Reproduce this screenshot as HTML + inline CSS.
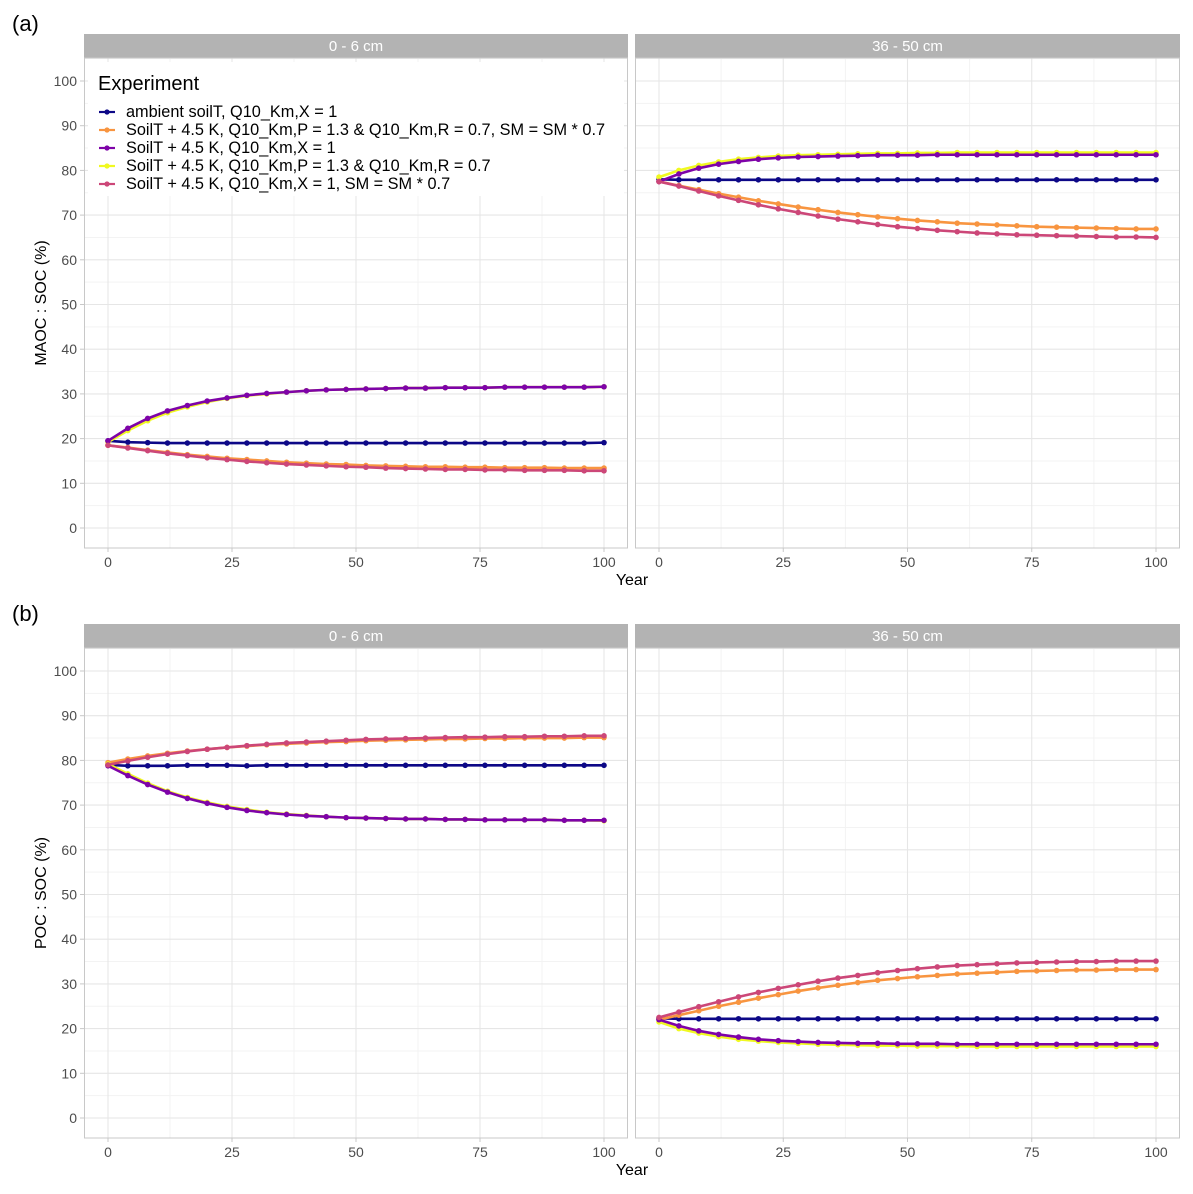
<!DOCTYPE html>
<html><head><meta charset="utf-8"><style>
body{margin:0;background:#fff;font-family:"Liberation Sans",Arial,sans-serif}
svg text{font-family:"Liberation Sans",Arial,sans-serif}
</style></head><body>
<svg id="chart" width="1193" height="1189" xmlns="http://www.w3.org/2000/svg"></svg>
<script>
const years=[0,4,8,12,16,20,24,28,32,36,40,44,48,52,56,60,64,68,72,76,80,84,88,92,96,100];
const seriesNames=["ambient soilT, Q10_Km,X = 1","SoilT + 4.5 K, Q10_Km,P = 1.3 & Q10_Km,R = 0.7, SM = SM * 0.7","SoilT + 4.5 K, Q10_Km,X = 1","SoilT + 4.5 K, Q10_Km,P = 1.3 & Q10_Km,R = 0.7","SoilT + 4.5 K, Q10_Km,X = 1, SM = SM * 0.7"];
const colors=["#0d0887","#f89540","#7e03a8","#f0f921","#cc4778"];
const drawOrder=[0,1,3,2,4];
// (a) 0-6 cm
const navyA1=[19.5,19.2,19.1,19,19,19,19,19,19,19,19,19,19,19,19,19,19,19,19,19,19,19,19,19,19,19.1];
const orA1=[18.5,18.0,17.4,16.9,16.4,16.0,15.6,15.3,15.0,14.7,14.5,14.3,14.2,14.0,13.9,13.8,13.7,13.7,13.6,13.6,13.5,13.5,13.5,13.4,13.4,13.4];
const purA1=[19.5,22.3,24.5,26.2,27.4,28.4,29.1,29.7,30.1,30.4,30.7,30.9,31.0,31.1,31.2,31.3,31.3,31.4,31.4,31.4,31.5,31.5,31.5,31.5,31.5,31.6];
const yelA1=[19.2,21.8,24.0,25.8,27.1,28.2,29.0,29.6,30.0,30.4,30.7,30.9,31.0,31.1,31.2,31.3,31.3,31.4,31.4,31.4,31.5,31.5,31.5,31.5,31.5,31.6];
const pkA1=[18.5,17.9,17.3,16.7,16.2,15.7,15.3,14.9,14.6,14.3,14.1,13.9,13.7,13.6,13.4,13.3,13.2,13.1,13.1,13.0,13.0,12.9,12.9,12.9,12.8,12.8];
// (a) 36-50 cm
const navyA2=[78,77.9,77.9,77.9,77.9,77.9,77.9,77.9,77.9,77.9,77.9,77.9,77.9,77.9,77.9,77.9,77.9,77.9,77.9,77.9,77.9,77.9,77.9,77.9,77.9,77.9];
const orA2=[77.5,76.6,75.7,74.8,74.0,73.2,72.5,71.8,71.2,70.6,70.1,69.6,69.2,68.8,68.5,68.2,68.0,67.8,67.6,67.4,67.3,67.2,67.1,67.0,66.9,66.9];
const purA2=[77.5,79.2,80.5,81.4,82.0,82.5,82.8,83.0,83.1,83.2,83.3,83.4,83.4,83.4,83.5,83.5,83.5,83.5,83.5,83.5,83.5,83.5,83.5,83.5,83.5,83.5];
const yelA2=[78.5,80.0,81.1,81.9,82.5,82.9,83.2,83.4,83.5,83.6,83.7,83.8,83.8,83.9,83.9,84,84,84,84,84,84,84,84,84,84,84];
const pkA2=[77.5,76.5,75.4,74.3,73.3,72.3,71.4,70.6,69.8,69.1,68.5,67.9,67.4,67.0,66.6,66.3,66.0,65.8,65.6,65.5,65.4,65.3,65.2,65.1,65.1,65.0];
// (b) 0-6 cm
const navyB1=[79,78.8,78.8,78.8,78.9,78.9,78.9,78.8,78.9,78.9,78.9,78.9,78.9,78.9,78.9,78.9,78.9,78.9,78.9,78.9,78.9,78.9,78.9,78.9,78.9,78.9];
const orB1=[79.5,80.3,81.0,81.6,82.1,82.5,82.9,83.2,83.5,83.7,83.9,84.1,84.2,84.4,84.5,84.6,84.7,84.8,84.8,84.9,84.9,85.0,85.0,85.0,85.1,85.1];
const purB1=[78.8,76.6,74.6,72.9,71.5,70.4,69.5,68.8,68.3,67.9,67.6,67.4,67.2,67.1,67.0,66.9,66.9,66.8,66.8,66.7,66.7,66.7,66.7,66.6,66.6,66.6];
const yelB1=[79.2,77.0,74.9,73.1,71.7,70.6,69.7,69.0,68.4,68.0,67.7,67.4,67.2,67.1,67.0,66.9,66.9,66.8,66.8,66.7,66.7,66.7,66.7,66.6,66.6,66.5];
const pkB1=[79.0,79.9,80.7,81.4,82.0,82.5,82.9,83.3,83.6,83.9,84.1,84.3,84.5,84.7,84.8,84.9,85.0,85.1,85.2,85.2,85.3,85.3,85.4,85.4,85.5,85.5];
// (b) 36-50 cm
const navyB2=[22.3,22.2,22.2,22.2,22.2,22.2,22.2,22.2,22.2,22.2,22.2,22.2,22.2,22.2,22.2,22.2,22.2,22.2,22.2,22.2,22.2,22.2,22.2,22.2,22.2,22.2];
const orB2=[22.0,23.0,24.0,25.0,25.9,26.8,27.6,28.4,29.1,29.7,30.3,30.8,31.2,31.6,31.9,32.2,32.4,32.6,32.8,32.9,33.0,33.1,33.1,33.2,33.2,33.2];
const purB2=[22.0,20.6,19.5,18.7,18.1,17.6,17.3,17.1,16.9,16.8,16.7,16.7,16.6,16.6,16.6,16.5,16.5,16.5,16.5,16.5,16.5,16.5,16.5,16.5,16.5,16.5];
const yelB2=[21.5,20.0,19.0,18.2,17.6,17.2,16.9,16.7,16.5,16.4,16.3,16.2,16.2,16.1,16.1,16.1,16.0,16.0,16.0,16.0,16.0,16.0,16.0,16.0,16.0,16.0];
const pkB2=[22.5,23.7,24.9,26.0,27.1,28.1,29.0,29.8,30.6,31.3,31.9,32.5,33.0,33.4,33.8,34.1,34.3,34.5,34.7,34.8,34.9,35.0,35.0,35.1,35.1,35.1];
const yTicks=[0,10,20,30,40,50,60,70,80,90,100];
const xTicks=[0,25,50,75,100];
const stripLabels=["0 - 6 cm","36 - 50 cm"];

const svg=document.getElementById('chart');
const NS="http://www.w3.org/2000/svg";
function mk(tag,attrs,parent,name,inter){const e=document.createElementNS(NS,tag);for(const k in attrs)e.setAttribute(k,attrs[k]);


(parent||svg).appendChild(e);return e;}
function txt(s,attrs,name){const t=mk('text',attrs,svg,name,false);t.textContent=s;return t;}

const panelsX=[[84,628],[635,1180]];
function drawRow(top,label,ytitle,data){
  const stripTop=top, plotTop=top+24, plotBot=top+514;
  const y0=plotBot-20, y100=plotTop+23;
  const ys=v=>y0+(y100-y0)*v/100;
  txt(label,{x:12,y:top-3,'font-size':22,fill:'#000'},'panel-label');
  panelsX.forEach((px,pi)=>{
    const xl=px[0],xr=px[1];
    const xs=v=>xl+24+(xr-xl-48)*v/100;
    mk('rect',{x:xl,y:stripTop,width:xr-xl,height:24,fill:'#b3b3b3'},svg,'facet-strip',false);
    txt(stripLabels[pi],{x:(xl+xr)/2,y:stripTop+17,'font-size':15,fill:'#fff','text-anchor':'middle'},'facet-strip-label');
    const g=mk('g',{},svg,'plot-panel',false);
    for(let v=-5;v<=105;v+=10){ if(v<-2)continue; mk('line',{x1:xl,x2:xr,y1:ys(v),y2:ys(v),stroke:'#f3f3f3','stroke-width':1},g,'minor-gridline',false);}
    for(let v=12.5;v<100;v+=25) mk('line',{x1:xs(v),x2:xs(v),y1:plotTop,y2:plotBot,stroke:'#f3f3f3','stroke-width':1},g,'minor-gridline',false);
    yTicks.forEach(v=>mk('line',{x1:xl,x2:xr,y1:ys(v),y2:ys(v),stroke:'#e6e6e6','stroke-width':1.1},g,'major-gridline',false));
    xTicks.forEach(v=>mk('line',{x1:xs(v),x2:xs(v),y1:plotTop,y2:plotBot,stroke:'#e6e6e6','stroke-width':1.1},g,'major-gridline',false));
    mk('rect',{x:xl+0.5,y:plotTop,width:xr-xl-1,height:plotBot-plotTop,fill:'none',stroke:'#c8c8c8','stroke-width':1},g,'panel-border',false);
    xTicks.forEach(v=>{mk('line',{x1:xs(v),x2:xs(v),y1:plotBot,y2:plotBot+4,stroke:'#c8c8c8'},svg,'x-tick',false);
      txt(String(v),{x:xs(v),y:plotBot+19,'font-size':14,fill:'#4d4d4d','text-anchor':'middle'},'x-tick-label');});
    if(pi===0) yTicks.forEach(v=>{mk('line',{x1:xl-4,x2:xl,y1:ys(v),y2:ys(v),stroke:'#c8c8c8'},svg,'y-tick',false);
      txt(String(v),{x:xl-7,y:ys(v)+5,'font-size':14,fill:'#4d4d4d','text-anchor':'end'},'y-tick-label');});
    const sers=data[pi];
    drawOrder.forEach(si=>{
      const arr=sers[si];
      const sg=mk('g',{},svg,'series-'+si,false);
      const pts=arr.map((v,i)=>xs(years[i])+','+ys(v)).join(' ');
      mk('polyline',{points:pts,fill:'none',stroke:colors[si],'stroke-width':2.6},sg,'series-line',false);
      arr.forEach((v,i)=>mk('circle',{cx:xs(years[i]),cy:ys(v),r:2.8,fill:colors[si]},sg,'data-point',false));
    });
  });
  txt('Year',{x:632,y:plotBot+37,'font-size':16,fill:'#000','text-anchor':'middle'},'x-axis-title');
  txt(ytitle,{x:0,y:0,'font-size':16,fill:'#000','text-anchor':'middle',transform:`translate(46,${(plotTop+plotBot)/2}) rotate(-90)`},'y-axis-title');
}
drawRow(34,'(a)','MAOC : SOC (%)',[[navyA1,orA1,purA1,yelA1,pkA1],[navyA2,orA2,purA2,yelA2,pkA2]]);
drawRow(624,'(b)','POC : SOC (%)',[[navyB1,orB1,purB1,yelB1,pkB1],[navyB2,orB2,purB2,yelB2,pkB2]]);

// legend
const lg=mk('g',{},svg,'legend',false);
mk('rect',{x:88,y:62,width:536,height:134,fill:'#fff'},lg,'legend-background',false);
const lt=mk('text',{x:98,y:90,'font-size':20,fill:'#000'},lg,'legend-title',false);lt.textContent='Experiment';
seriesNames.forEach((n,i)=>{
  const y=112+i*18;
  const e=mk('g',{},lg,'legend-entry',true);
  mk('line',{x1:99,x2:115,y1:y,y2:y,stroke:colors[i],'stroke-width':2.2},e,'legend-key-line',false);
  mk('circle',{cx:107,cy:y,r:2.6,fill:colors[i]},e,'legend-key-point',false);
  const t=mk('text',{x:126,y:y+5,'font-size':16.3,fill:'#000'},e,'legend-label',false);t.textContent=n;
});
</script>
</body></html>
